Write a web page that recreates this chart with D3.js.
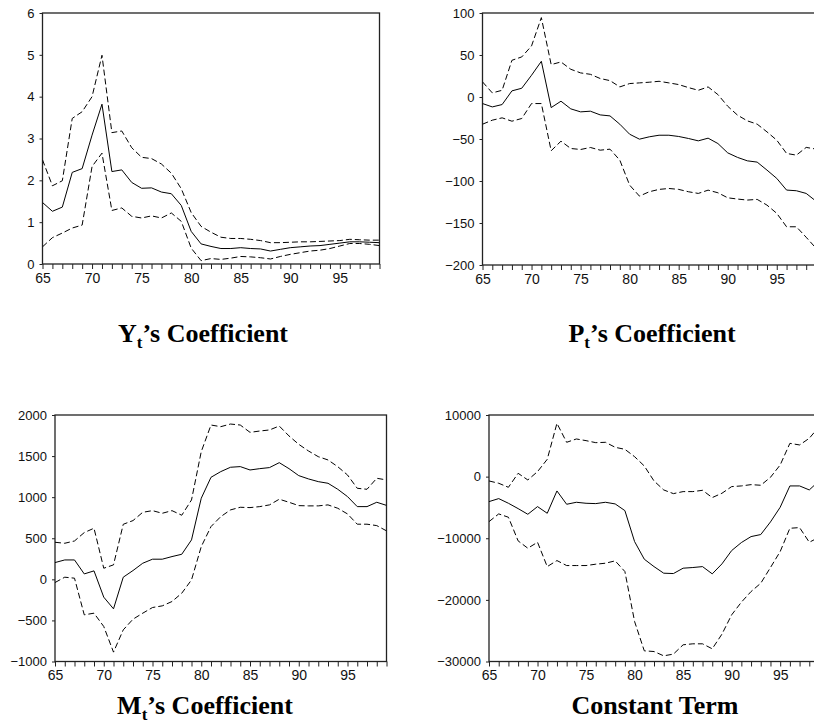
<!DOCTYPE html>
<html>
<head>
<meta charset="utf-8">
<script src="https://cdn.jsdelivr.net/npm/d3@7"></script>
<style>
  body { margin: 0; background: #fff; }
  svg { display: block; }
</style>
</head>
<body>
<svg id="chart" width="814" height="724"></svg>
<script>
// Years 1965..1999 (tick every year, label every 5)
const years = [65,66,67,68,69,70,71,72,73,74,75,76,77,78,79,80,81,82,83,84,85,86,87,88,89,90,91,92,93,94,95,96,97,98,99];
const xTickLabels = [65,70,75,80,85,90,95];

// Y's coefficient
const yCoef      = [1.47,1.26,1.36,2.19,2.28,3.08,3.82,2.21,2.25,1.95,1.81,1.82,1.72,1.68,1.40,0.78,0.48,0.42,0.37,0.37,0.39,0.37,0.36,0.31,0.35,0.39,0.41,0.43,0.44,0.47,0.50,0.53,0.53,0.52,0.51];
const yCoefUpper = [2.49,1.87,1.99,3.48,3.64,4.00,4.99,3.14,3.18,2.78,2.55,2.52,2.39,2.17,1.80,1.23,0.90,0.76,0.64,0.61,0.61,0.59,0.56,0.51,0.51,0.52,0.53,0.53,0.54,0.55,0.56,0.59,0.58,0.57,0.57];
const yCoefLower = [0.41,0.63,0.74,0.86,0.93,2.33,2.65,1.28,1.34,1.14,1.10,1.15,1.10,1.22,1.02,0.38,0.08,0.13,0.11,0.14,0.18,0.17,0.15,0.12,0.18,0.23,0.27,0.31,0.33,0.37,0.43,0.49,0.49,0.47,0.44];
const yCoefTicks = [0,1,2,3,4,5,6];

// P's coefficient
const pCoef      = [-7.8,-11.8,-9,7.3,10.4,25.9,42.5,-12.6,-5,-14.1,-17.7,-16.9,-21.3,-22.5,-32.4,-44.3,-50.2,-47.4,-45.5,-45.5,-47,-49.4,-52.2,-49,-55.4,-66.5,-71.9,-76,-77.5,-87,-96.9,-110.8,-111.6,-114.8,-124];
const pCoefUpper = [18,4.9,8,43.7,47.7,60.8,94.5,38.6,41.7,33,28.7,27,22,19.5,12,16,16.8,17.6,18.7,16.8,14.8,11.2,8,12,2.9,-11,-21.6,-28.4,-32.3,-41.5,-51.4,-67.2,-69.2,-60,-62];
const pCoefLower = [-32.4,-27.6,-24.8,-28.8,-25.6,-7.8,-7.8,-64,-52.6,-61.3,-62.5,-60.1,-63.3,-62.1,-75.2,-104.9,-118,-112.8,-110,-108.9,-110,-112.8,-114.8,-110.9,-114,-120,-121.5,-122.7,-121.9,-128.7,-138.5,-154.5,-154.5,-167,-180];
const pCoefTicks = [-200,-150,-100,-50,0,50,100];

// M's coefficient
const mCoef      = [204,236,236,66,103,-217,-359,26,107,196,245,245,277,305,480,987,1242,1311,1364,1372,1331,1347,1360,1420,1347,1262,1222,1189,1169,1096,1007,885,885,938,900];
const mCoefUpper = [451,439,467,569,622,135,176,670,715,816,836,804,836,780,966,1554,1878,1858,1890,1878,1789,1805,1818,1866,1745,1643,1562,1493,1453,1371,1270,1108,1096,1230,1210];
const mCoefLower = [-39,26,14,-432,-412,-574,-886,-615,-485,-412,-343,-323,-270,-169,-7,398,642,763,845,877,873,885,906,975,938,897,894,894,906,865,796,671,671,654,590];
const mCoefTicks = [-1000,-500,0,500,1000,1500,2000];

// Constant term
const constTerm      = [-4054,-3567,-4324,-5189,-6108,-4865,-5946,-2324,-4486,-4162,-4324,-4378,-4162,-4432,-5513,-10540,-13400,-14600,-15670,-15730,-14860,-14750,-14600,-15780,-14160,-12000,-10700,-9730,-9400,-7350,-4970,-1510,-1510,-2160,-700];
const constTermUpper = [-702,-1080,-1730,540,-540,810,2810,8650,5570,6110,5840,5510,5570,4760,4430,3240,1730,-700,-2160,-2760,-2430,-2430,-2220,-3400,-2700,-1620,-1510,-1300,-1400,-110,1890,5400,5140,6220,8100];
const constTermLower = [-7300,-6050,-6590,-10430,-11620,-10650,-14600,-13620,-14430,-14430,-14430,-14210,-14050,-13670,-15400,-23510,-28270,-28380,-29080,-28800,-27290,-27130,-27130,-27940,-25560,-22430,-20380,-18650,-17300,-14750,-12160,-8380,-8270,-10650,-9840];
const constTermTicks = [-30000,-20000,-10000,0,10000];

const svg = d3.select("#chart");

const panels = [
    {left: 42.5, right: 379.5, top: 13, bottom: 264, domain: [0, 6], ticks: yCoefTicks,
     mid: yCoef, upper: yCoefUpper, lower: yCoefLower,
     title: ["Y", "t", "’s Coefficient"], titleX: 203, titleY: 342},
    {left: 482.5, right: 816, top: 13, bottom: 265, domain: [-200, 100], ticks: pCoefTicks,
     mid: pCoef, upper: pCoefUpper, lower: pCoefLower,
     title: ["P", "t", "’s Coefficient"], titleX: 652, titleY: 342},
    {left: 55, right: 386.5, top: 415, bottom: 661.5, domain: [-1000, 2000], ticks: mCoefTicks,
     mid: mCoef, upper: mCoefUpper, lower: mCoefLower,
     title: ["M", "t", "’s Coefficient"], titleX: 205, titleY: 714},
    {left: 489, right: 819, top: 415, bottom: 661.5, domain: [-30000, 10000], ticks: constTermTicks,
     mid: constTerm, upper: constTermUpper, lower: constTermLower,
     title: ["Constant Term"], titleX: 655, titleY: 714}
];

panels.forEach(drawPanel);

function drawPanel(p) {
    const x = d3.scaleLinear().domain([65, 99]).range([p.left, p.right]);
    const y = d3.scaleLinear().domain(p.domain).range([p.bottom, p.top]);
    const g = svg.append("g");

    // frame
    g.append("rect")
        .attr("x", p.left).attr("y", p.top)
        .attr("width", p.right - p.left).attr("height", p.bottom - p.top)
        .attr("fill", "none").attr("stroke", "#222").attr("stroke-width", 1.3);

    // y axis
    const yAxis = g.append("g")
        .attr("transform", `translate(${p.left},0)`)
        .call(d3.axisLeft(y).tickValues(p.ticks).tickSize(3).tickPadding(5).tickFormat(d3.format("d")));
    yAxis.select(".domain").remove();
    yAxis.selectAll("line").attr("stroke", "#222");
    yAxis.selectAll("text")
        .attr("fill", "#111")
        .style("font-family", "Arial, 'Liberation Sans', sans-serif")
        .style("font-size", "13px");

    // x axis: a tick every year, label every 5
    const xAxis = g.append("g")
        .attr("transform", `translate(0,${p.bottom})`)
        .call(d3.axisBottom(x).tickValues(years).tickSize(5).tickPadding(4)
            .tickFormat(d => xTickLabels.includes(d) ? d : ""));
    xAxis.select(".domain").remove();
    xAxis.selectAll("line").attr("stroke", "#222");
    xAxis.selectAll("text")
        .attr("fill", "#111")
        .style("font-family", "Arial, 'Liberation Sans', sans-serif")
        .style("font-size", "14px");

    const line = d3.line()
        .x((d, i) => x(years[i]))
        .y(d => y(d));

    const clipId = "clip" + Math.round(p.left);
    g.append("clipPath").attr("id", clipId)
        .append("rect").attr("x", p.left).attr("y", p.top)
        .attr("width", p.right - p.left).attr("height", p.bottom - p.top);

    const lines = g.append("g").attr("clip-path", `url(#${clipId})`);
    [p.upper, p.lower].forEach(s => {
        lines.append("path").datum(s)
            .attr("d", line)
            .attr("fill", "none").attr("stroke", "#000").attr("stroke-width", 1)
            .attr("stroke-dasharray", "6,3");
    });
    lines.append("path").datum(p.mid)
        .attr("d", line)
        .attr("fill", "none").attr("stroke", "#000").attr("stroke-width", 1);

    // title
    const t = g.append("text")
        .attr("x", p.titleX).attr("y", p.titleY)
        .attr("text-anchor", "middle")
        .style("font-family", "'Liberation Serif', 'Times New Roman', serif")
        .style("font-weight", "bold")
        .style("font-size", "26px")
        .attr("fill", "#000");
    t.append("tspan").text(p.title[0]);
    if (p.title.length > 1) {
        t.append("tspan").attr("dy", 6).style("font-size", "17px").text(p.title[1]);
        t.append("tspan").attr("dy", -6).text(p.title[2]);
    }
}
</script>
</body>
</html>
